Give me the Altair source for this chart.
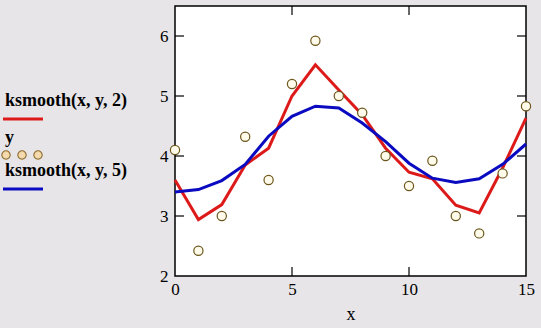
import altair as alt
import pandas as pd

xs = list(range(16))
y_obs = [4.1, 2.42, 3.0, 4.32, 3.6, 5.2, 5.92, 5.0, 4.72, 4.0, 3.5, 3.92, 3.0, 2.71, 3.71, 4.83]
ks2 = [3.6, 2.94, 3.19, 3.85, 4.13, 5.0, 5.52, 5.1, 4.69, 4.13, 3.73, 3.62, 3.18, 3.05, 3.8, 4.63]
ks5 = [3.4, 3.44, 3.59, 3.86, 4.33, 4.66, 4.83, 4.8, 4.55, 4.24, 3.88, 3.63, 3.56, 3.62, 3.86, 4.2]
x_ticks = [0, 5, 10, 15]
y_ticks = [2, 3, 4, 5, 6]
inner_x_ticks = [5, 10]
inner_y_ticks = [3, 4, 5, 6]

RED = "#dd1a1a"
BLUE = "#0a0ac0"
FONT = "Liberation Serif"

df = pd.DataFrame({"x": xs, "y": y_obs, "k2": ks2, "k5": ks5})

xsc = alt.Scale(domain=[0, 15], nice=False, zero=False)
ysc = alt.Scale(domain=[2, 6.5], nice=False, zero=False)

base = alt.Chart(df)

xaxis = alt.Axis(values=x_ticks, tickSize=0, labelPadding=5, domain=False, grid=False,
                 title="x", titlePadding=8, labelFlush=False, format="d")
yaxis = alt.Axis(values=y_ticks, tickSize=0, labelPadding=7, domain=False, grid=False,
                 title=None, format="d")

red = base.mark_line(color=RED, strokeWidth=3).encode(
    x=alt.X("x:Q", scale=xsc, axis=xaxis),
    y=alt.Y("k2:Q", scale=ysc, axis=yaxis),
)
blue = base.mark_line(color=BLUE, strokeWidth=3).encode(
    x=alt.X("x:Q", scale=xsc), y=alt.Y("k5:Q", scale=ysc)
)
pts = base.mark_point(shape="circle", size=85, filled=False, stroke="#6b561c",
                      fill="#fffbea", fillOpacity=1, strokeWidth=1.2).encode(
    x=alt.X("x:Q", scale=xsc), y=alt.Y("y:Q", scale=ysc)
)

# inward ticks
xt = pd.DataFrame({"t": inner_x_ticks})
yt = pd.DataFrame({"t": inner_y_ticks})
tick_b = alt.Chart(xt).mark_rule(color="black", strokeWidth=1.2).encode(
    x=alt.X("t:Q", scale=xsc), y=alt.value(270), y2=alt.value(261))
tick_t = alt.Chart(xt).mark_rule(color="black", strokeWidth=1.2).encode(
    x=alt.X("t:Q", scale=xsc), y=alt.value(0), y2=alt.value(9))
tick_l = alt.Chart(yt).mark_rule(color="black", strokeWidth=1.2).encode(
    y=alt.Y("t:Q", scale=ysc), x=alt.value(0), x2=alt.value(9))
tick_r = alt.Chart(yt).mark_rule(color="black", strokeWidth=1.2).encode(
    y=alt.Y("t:Q", scale=ysc), x=alt.value(351), x2=alt.value(342))

# legend
leg_txt = pd.DataFrame({"label": ["ksmooth(x, y, 2)", "y", "ksmooth(x, y, 5)"],
                        "ly": [95, 132, 165]})
legend_text = alt.Chart(leg_txt).mark_text(align="left", baseline="middle", font=FONT,
                                           fontSize=18, fontWeight="bold", color="black").encode(
    x=alt.value(-170), y=alt.Y("ly:Q", scale=None), text="label:N")
leg_red = alt.Chart(pd.DataFrame({"a": [0]})).mark_rule(color=RED, strokeWidth=3).encode(
    x=alt.value(-172), x2=alt.value(-132), y=alt.value(113))
leg_blue = alt.Chart(pd.DataFrame({"a": [0]})).mark_rule(color=BLUE, strokeWidth=3).encode(
    x=alt.value(-172), x2=alt.value(-132), y=alt.value(183))
leg_pts = alt.Chart(pd.DataFrame({"lx": [-169, -153, -137]})).mark_point(
    shape="circle", size=70, filled=False, stroke="#8a6a2a", fill="#f3d9ad",
    fillOpacity=1, strokeWidth=1.1).encode(
    x=alt.X("lx:Q", scale=None), y=alt.value(149))

chart = alt.layer(red, blue, pts, tick_b, tick_t, tick_l, tick_r,
                  legend_text, leg_red, leg_blue, leg_pts).properties(
    width=351, height=270,
    autosize=alt.AutoSizeParams(type="none"),
    padding={"left": 175, "top": 6, "right": 15, "bottom": 52},
    background="#e7e5e8",
).configure_view(
    stroke="black", strokeWidth=1.5, fill="white"
).configure_axis(
    labelFont=FONT, labelFontSize=17, labelColor="black",
    titleFont=FONT, titleFontSize=18, titleColor="black", titleFontWeight="normal",
)

chart.save("out.html", embed_options={"renderer": "svg", "actions": False})
